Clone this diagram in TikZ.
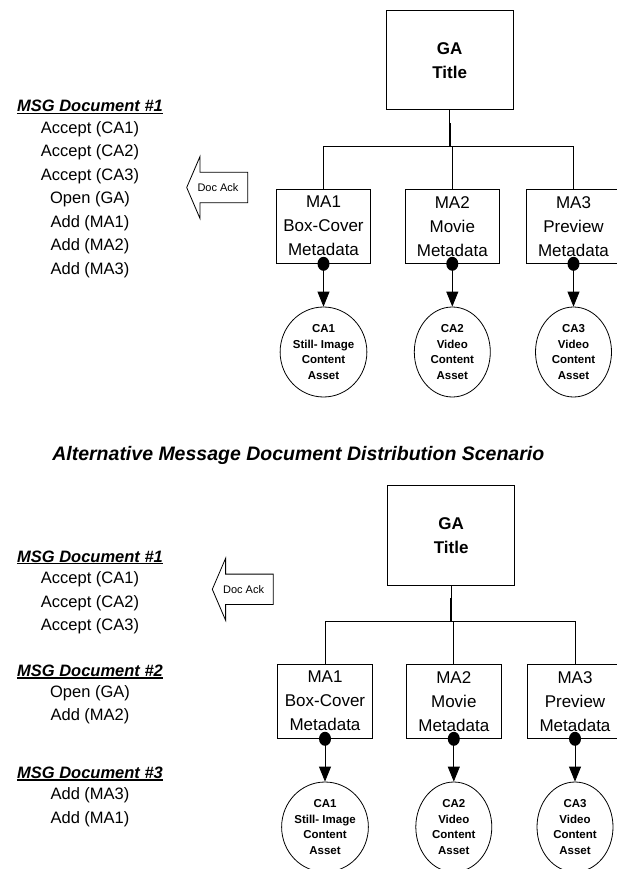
\documentclass[tikz,border=0pt]{standalone}
\usepackage{fontspec}
\setmainfont{Liberation Sans}
\usetikzlibrary{arrows.meta,shapes.geometric}

\tikzset{
 listtext/.style={font=\fontsize{16.5}{20}\selectfont, inner sep=0pt},
 headtext/.style={font=\fontsize{16.5}{20}\selectfont\bfseries\itshape, inner sep=0pt, anchor=base},
 headline/.style={line width=1.3pt},
 titletext/.style={font=\fontsize{19.5}{23}\selectfont\bfseries\itshape, inner sep=0pt, anchor=base},
 gabox/.style={draw, line width=0.9pt, minimum width=127pt, minimum height=99.3pt, align=center, font=\fontsize{17}{23.7}\selectfont\bfseries, inner sep=0pt},
 mabox/.style={draw, line width=0.9pt, minimum width=94.7pt, minimum height=74.3pt, align=center, font=\fontsize{17}{24}\selectfont, inner sep=0pt},
 caell/.style={draw, ellipse, line width=0.8pt, minimum width=76pt, minimum height=90pt, align=center, font=\fontsize{11.5}{15.7}\selectfont\bfseries, inner sep=0pt},
 conn/.style={line width=0.8pt},
 thickstem/.style={line width=2pt},
 assoc/.style={line width=0.8pt, -{Triangle[length=15pt,width=12pt]}},
 ackarrow/.style={draw, line width=0.8pt, fill=white},
 acktext/.style={font=\fontsize{11}{13}\selectfont, inner sep=0pt},
}

\newcommand{\metatree}[1]{%
 \node[gabox] (#1ga) at (449.7,60.3) {GA\\Title};
 \node[mabox] (#1ma1) at (323.5,226.2) {MA1\\Box-Cover\\Metadata};
 \node[mabox] (#1ma2) at (452.3,226.2) {MA2\\Movie\\Metadata};
 \node[mabox] (#1ma3) at (573.5,226.2) {MA3\\Preview\\Metadata};
 \node[caell] (#1ca1) at (323.5,352) {CA1\\Still- Image\\Content\\Asset};
 \node[caell] (#1ca2) at (452.3,352) {CA2\\Video\\Content\\Asset};
 \node[caell] (#1ca3) at (573.5,352) {CA3\\Video\\Content\\Asset};
 \coordinate (#1j) at (449.7,146.7);
 \draw[conn] (#1ga.south) -- (#1j);
 \draw[thickstem] (#1j) -- ++(0,-23.7);
 \draw[conn] (#1ma1.north) |- (#1j) -| (#1ma3.north);
 \draw[conn] (#1ma2.north) -- (#1ma2.north |- #1j);
 \foreach \k in {1,2,3}{
  \draw[assoc] (#1ma\k.south) -- (#1ca\k.north);
  \fill (#1ma\k.south) ellipse[x radius=6pt, y radius=7pt];
 }
}

\begin{document}
\begin{tikzpicture}[x=1pt,y=-1pt]
\useasboundingbox (0,0) rectangle (617,869);

% ---------- first scenario ----------
\metatree{a}

\node[headtext] (h1) at (90,112) {MSG Document \#1};
\draw[headline] ([yshift=-1.6pt]h1.base west) -- ([yshift=-1.6pt]h1.base east);
\node[listtext] (a1) at (90,129)   {Accept (CA1)};
\node[listtext] (a2) at (90,152.5) {Accept (CA2)};
\node[listtext] (a3) at (90,176)   {Accept (CA3)};
\node[listtext] (a4) at (90,199.5) {Open (GA)};
\node[listtext] (a5) at (90,223)   {Add (MA1)};
\node[listtext] (a6) at (90,246.5) {Add (MA2)};
\node[listtext] (a7) at (90,270)   {Add (MA3)};

\draw[ackarrow] (186.7,187.5) -- (200,156.5) -- (200,172.3) -- (247.7,172.3)
  -- (247.7,202.7) -- (200,202.7) -- (200,218.5) -- cycle;
\node[acktext] (ack1) at (218,187.5) {Doc Ack};

% ---------- title ----------
\node[titletext] (title) at (298.3,460.7) {Alternative Message Document Distribution Scenario};

% ---------- second scenario ----------
\begin{scope}[shift={(1.5,475)}]
\metatree{b}
\end{scope}

\node[headtext] (h2) at (90,562) {MSG Document \#1};
\draw[headline] ([yshift=-1.6pt]h2.base west) -- ([yshift=-1.6pt]h2.base east);
\node[listtext] (b1) at (90,579.3) {Accept (CA1)};
\node[listtext] (b2) at (90,603)   {Accept (CA2)};
\node[listtext] (b3) at (90,626.5) {Accept (CA3)};

\node[headtext] (h3) at (90,676.3) {MSG Document \#2};
\draw[headline] ([yshift=-1.6pt]h3.base west) -- ([yshift=-1.6pt]h3.base east);
\node[listtext] (b4) at (90,693.3) {Open (GA)};
\node[listtext] (b5) at (90,716.7) {Add (MA2)};

\node[headtext] (h4) at (90,778.5) {MSG Document \#3};
\draw[headline] ([yshift=-1.6pt]h4.base west) -- ([yshift=-1.6pt]h4.base east);
\node[listtext] (b6) at (90,795.7) {Add (MA3)};
\node[listtext] (b7) at (90,819.3) {Add (MA1)};

\begin{scope}[shift={(25.6,401.8)}]
\draw[ackarrow] (186.7,187.5) -- (200,156.5) -- (200,172.3) -- (247.7,172.3)
  -- (247.7,202.7) -- (200,202.7) -- (200,218.5) -- cycle;
\node[acktext] (ack2) at (218,187.5) {Doc Ack};
\end{scope}
\end{tikzpicture}
\end{document}
